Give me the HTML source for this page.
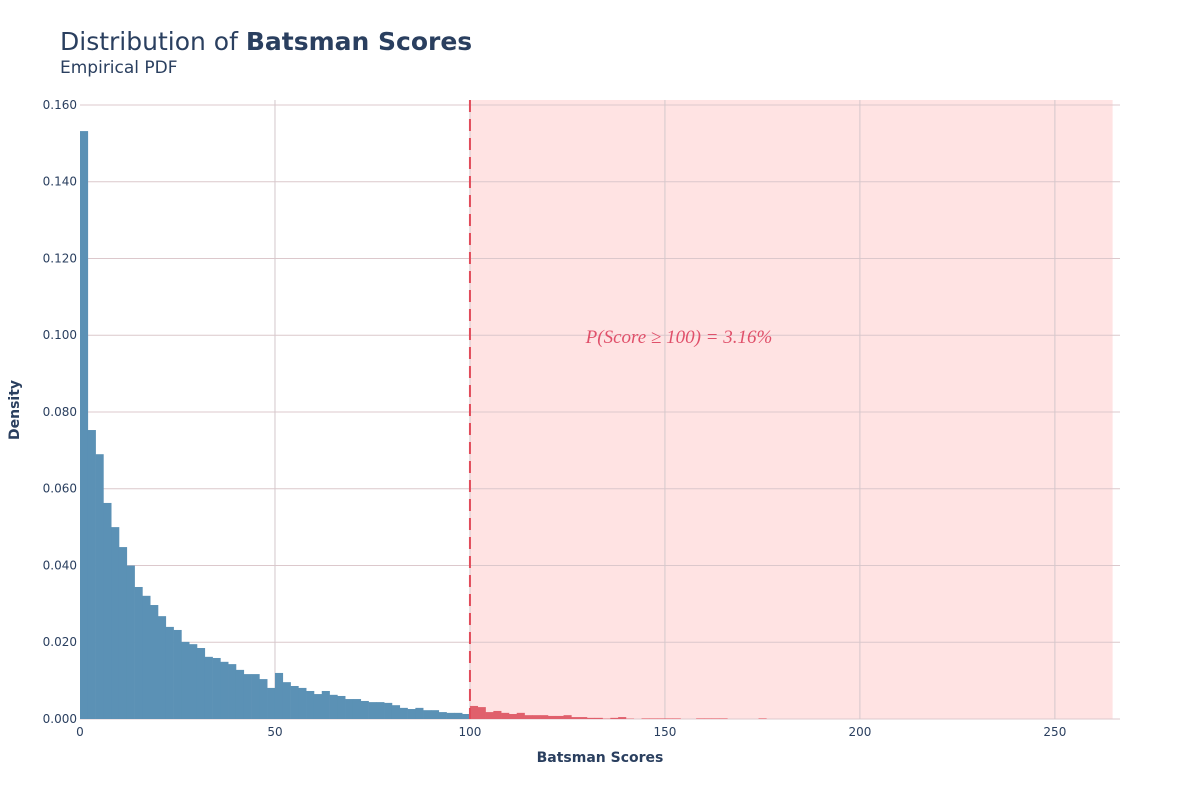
<!DOCTYPE html>
<html><head><meta charset="utf-8"><style>
html,body{margin:0;padding:0;background:#fff;width:1200px;height:800px;overflow:hidden;font-family:"DejaVu Sans","Liberation Sans",sans-serif}
</style></head><body>
<svg id="chart" width="1200" height="800" xmlns="http://www.w3.org/2000/svg" style="display:block">
<g>
<text x="60" y="50" font-size="25" fill="#2a3f5f" font-family="DejaVu Sans, sans-serif">Distribution of <tspan font-weight="bold">Batsman Scores</tspan></text>
<text x="60" y="73" font-size="17" fill="#2a3f5f" font-family="DejaVu Sans, sans-serif">Empirical PDF</text>
</g>
<g id="plot"></g>
</svg>
<script>
const binWidth = 2;
const densities = [0.1532,0.0753,0.0690,0.0563,0.0500,0.0448,0.0400,0.0344,0.0321,0.0297,
0.0268,0.0240,0.0232,0.0201,0.0195,0.0185,0.0162,0.0159,0.0149,0.0143,
0.0128,0.0117,0.0117,0.0104,0.0081,0.0120,0.0096,0.0086,0.0081,0.0073,
0.0065,0.0073,0.0063,0.0060,0.0052,0.0052,0.0047,0.0044,0.0044,0.0042,
0.0036,0.0029,0.0026,0.0029,0.0023,0.0023,0.0018,0.0016,0.0016,0.0013,
0.0034,0.0031,0.0018,0.0021,0.0016,0.0013,0.0016,0.0010,0.0010,0.0010,
0.0008,0.0008,0.0010,0.0005,0.0005,0.0003,0.0003,0.0001,0.0003,0.0005,
0.0001,0,0.00015,0.00015,0.00015,0.00015,0.00015,0,0,0.00015,
0.00015,0.00015,0.00015,0,0,0,0,0.00015];
const threshold = 100;
const probLabel = "P(Score ≥ 100) = 3.16%";
const xTicks = [0,50,100,150,200,250];
const yTicks = [0,0.02,0.04,0.06,0.08,0.10,0.12,0.14,0.16];
const xMax = 266.7, yMax = 0.1613, shadeEnd = 264.8;

const L=80,R=1120,T=100,B=719;
const xs = v => L + v/xMax*(R-L);
const ys = v => B - v/yMax*(B-T);
const NS="http://www.w3.org/2000/svg";
const g=document.getElementById('plot');
function mk(tag,attrs,parent){const e=document.createElementNS(NS,tag);for(const k in attrs)e.setAttribute(k,attrs[k]);(parent||g).appendChild(e);return e;}

const shade=mk('rect',{x:xs(threshold),y:T,width:xs(shadeEnd)-xs(threshold),height:B-T,fill:'#ffe3e3'});



yTicks.forEach(v=>{
  const ln=mk('line',{x1:L,x2:R,y1:ys(v),y2:ys(v),stroke:'#dcc8cc','stroke-width':1});
  
  
  const t=mk('text',{x:L-3,y:ys(v)+4,'text-anchor':'end','font-size':12,fill:'#2a3f5f'});
  t.textContent=v.toFixed(3);
  
  
});
xTicks.forEach(v=>{
  if(v>0){const ln=mk('line',{x1:xs(v),x2:xs(v),y1:T,y2:B,stroke:'#d4c8cc','stroke-width':1});
  
  }
  const t=mk('text',{x:xs(v),y:B+17,'text-anchor':'middle','font-size':12,fill:'#2a3f5f'});
  t.textContent=v;
  
  
});

densities.forEach((d,i)=>{
  if(d<=0)return;
  const x0=i*binWidth;
  const r=mk('rect',{x:xs(x0),y:ys(d),width:xs(x0+binWidth)-xs(x0)+0.3,height:B-ys(d),fill:x0>=threshold?'#e0606c':'#5b91b5'});
  
  
});

const vl=mk('line',{x1:xs(threshold),x2:xs(threshold),y1:T,y2:B,stroke:'#e04b5a','stroke-width':2,'stroke-dasharray':'12,7'});



const ann=mk('text',{x:679,y:343,'text-anchor':'middle','font-size':19,fill:'#e0506a','font-style':'italic','font-family':'Liberation Serif, serif'});
ann.textContent=probLabel;



const xt=mk('text',{x:600,y:762,'text-anchor':'middle','font-size':14,'font-weight':'bold',fill:'#2a3f5f'});
xt.textContent='Batsman Scores';


const yt=mk('text',{x:19,y:410,'text-anchor':'middle','font-size':14,'font-weight':'bold',fill:'#2a3f5f',transform:'rotate(-90 19 410)'});
yt.textContent='Density';


</script>
</body></html>
